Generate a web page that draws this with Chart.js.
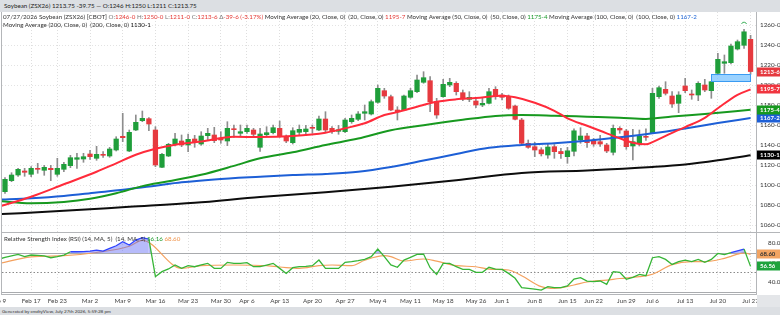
<!DOCTYPE html>
<html>
<head>
<meta charset="utf-8">
<script src="https://cdn.jsdelivr.net/npm/chart.js@4.4.1/dist/chart.umd.min.js"></script>
<style>
  html, body { margin:0; padding:0; width:780px; height:315px; overflow:hidden; background:#fff; font-family:Lato, "DejaVu Sans", sans-serif; }
  .abs { position:absolute; }
  #hdr { left:0; top:0; width:780px; height:12px; background:#dcdfe3; font-size:6.2px; color:#222; line-height:12px; white-space:nowrap; }
  #hdr span { padding-left:4px; }
  #foot { left:0; top:307px; width:780px; height:8px; background:#dcdfe3; font-size:4.6px; color:#333; line-height:8px; white-space:nowrap; }
  #foot span { padding-left:2px; }
  #axcorner { left:757px; top:295px; width:23px; height:12px; background:#e4e6e9; }
  .legend { font-size:6.2px; color:#333; white-space:nowrap; line-height:8px; pointer-events:none; }
  .g { color:#777; } .r { color:#e53935; } .gr { color:#1a9a2a; } .bl { color:#1f66d6; } .k { color:#111; } .or { color:#f0944c; }
  .line { background:#b4b6b9; }
  canvas { position:absolute; left:0; }
</style>
</head>
<body>
<div id="hdr" class="abs"><span id="hdrText"></span></div>
<canvas id="price" width="780" height="220" style="top:12px"></canvas>
<canvas id="rsi" width="780" height="75" style="top:232px"></canvas>
<div class="abs line" style="left:1px;top:12px;width:1px;height:283px"></div>
<div class="abs line" style="left:756px;top:12px;width:1px;height:283px"></div>
<div class="abs line" style="left:1px;top:232px;width:779px;height:1px"></div>
<div class="abs line" style="left:1px;top:294px;width:756px;height:1px"></div>
<div id="axcorner" class="abs"></div>
<div id="leg1" class="abs legend" style="left:3px;top:13px"></div>
<div id="leg2" class="abs legend" style="left:3px;top:21px"></div>
<div id="leg3" class="abs legend" style="left:4px;top:235px"></div>
<div id="foot" class="abs"><span>Generated by cmdtyView, July 27th 2026, 5:59:28 pm</span></div>
<script>
// ---------------- DATA ----------------
// session index 0 = Feb 9 2026 ... 115 = Jul 27 2026 (daily, trading days)
const firstSession = 1;
const opens = [1093.6,1104.6,1110.3,1114.3,1111,1116.5,1115,1117,1111,1116,1119.6,1126,1126.3,1131.3,1127,1131,1129.3,1135.3,1149,1134.3,
  1155.3,1164.6,1166.6,1155.3,1118,1129.3,1141.3,1144.3,1140.3,1146.3,1141.3,1149.6,1150.3,1147,1144.3,1156.3,1152,1153.6,1155.3,1138,
  1150.6,1152.6,1157,1148.6,1142.6,1153,1153.6,1157.5,1155.3,1166.3,1157,1154,1153.6,1163.6,1166,1172,1171.3,1183,1194.6,1188.6,
  1175.3,1175.3,1188,1193.6,1203,1204.6,1183.6,1188.6,1200.3,1202,1192.6,1186,1184.3,1180.3,1182,1196,1190.3,1188.6,1179.3,1165.3,
  1142,1138.6,1135.5,1130.3,1138.6,1133.8,1128.6,1134,1145.3,1149.3,1144.6,1143.6,1140.3,1133,1157,1154.3,1139.3,1142,1148.5,1152.6,
  1188.6,1196,1189.3,1182,1199.3,1191.3,1190.3,1200.3,1194.6,1212,1222,1222.6,1236.3,1240,1246];
const highs = [1107.6,1112.6,1117,1117,1118.6,1122,1120,1120,1127,1123,1130,1132,1132,1135,1139,1133.6,1138,1148.6,1172,1155.3,
  1170.3,1174.3,1167.6,1158.6,1132,1142,1152,1150.3,1151.3,1150,1153.6,1157,1158,1153.6,1163.6,1160.3,1160.3,1160.3,1157,1157,
  1158.6,1160.3,1164.3,1150.3,1157.6,1160.3,1160,1160.3,1169.3,1173.6,1158.6,1160,1167,1170.3,1173.6,1180.3,1185.3,1200.3,1197,1190.3,
  1178.6,1190.3,1197,1210.3,1213.6,1208.6,1187,1206,1207,1203.6,1195.3,1193.6,1186,1187,1197,1198.6,1192,1190.3,1180.3,1167,
  1145.3,1143,1137.6,1141,1140.8,1137,1138,1156.5,1157.6,1152,1147,1150,1142,1160.3,1158.6,1156,1156,1155.3,1156.5,1197,
  1199.3,1203.6,1193.6,1193.6,1207,1195.3,1203.6,1206,1204,1232,1230.3,1241.3,1245.3,1256,1250];
const lows = [1092,1103.6,1109,1109,1108.6,1112,1110,1104.6,1109,1113.6,1117.6,1117,1123,1126,1125,1128,1128,1134.3,1143.6,1133.6,
  1154.6,1163.6,1154.6,1118.6,1117.6,1128.6,1139.3,1138.6,1133.6,1138,1140,1145.3,1142.6,1142,1139.6,1148,1148.6,1152,1147.6,1134,
  1148.6,1151.3,1148,1142.6,1141.3,1150.3,1150,1152,1154.6,1153.6,1152,1151,1152.6,1162,1164.6,1165.3,1170.3,1182,1187,1174.6,
  1165.3,1174.6,1187,1192.6,1202,1173.6,1167,1188,1198.6,1190.3,1184.6,1183.6,1177.6,1178.6,1181.3,1186,1185.3,1176,1165.3,1140.3,
  1137,1128.6,1129.3,1127,1127,1127,1122,1129.5,1142,1138,1139,1139,1132.6,1130.3,1152,1136,1125.3,1139.3,1145,1152,
  1187,1190.3,1178,1172.6,1192.6,1186,1184.6,1193.6,1187,1211,1212,1221.3,1235.3,1237,1211];
const closes = [1106,1110.3,1116,1113,1117,1116,1118,1115.6,1117,1121,1127.6,1127.6,1128.6,1128.6,1131,1130,1136.3,1146.3,1147.6,1153,
  1163,1167,1161.3,1120.3,1131,1141,1146.3,1140.3,1146,1143.6,1149.3,1152,1144.6,1145.3,1157,1155.6,1153.6,1157,1151,1151.3,
  1152.6,1157.6,1148.6,1144.3,1154.6,1156,1156.3,1157,1166.3,1155.3,1153.6,1155.5,1165.3,1167,1171.3,1173.6,1183.6,1197,1189.3,1175.3,
  1173.6,1189.3,1194.6,1205.3,1207.6,1183.6,1170.3,1201,1203,1193.6,1186.3,1188,1180.3,1182,1193.6,1188.6,1188,1177,1166,1142,
  1138,1135.3,1131.5,1138.3,1133.6,1131.6,1134.5,1154.5,1149.3,1142.6,1141.3,1141.3,1134.3,1157,1155.3,1138.6,1143.6,1149.3,1148,1192,
  1197.6,1192,1181.3,1190.3,1194.6,1190.3,1202,1195.3,1203.6,1226,1223.6,1239.3,1243.6,1253.5,1213.75];

// moving averages: [session index, value]
const ma20 = [[0,1078.6],[5,1088.6],[10,1101],[15,1113.5],[18,1122],[21,1130.5],[24,1136.5],[27,1140.5],[31,1143.8],[36,1148.6],[40,1148.2],
  [45,1149.3],[50,1152.6],[53,1157],[56,1162],[59,1170.3],[61,1173.2],[64,1178.6],[67,1183.6],[70,1186],[73,1187.2],[77,1189.5],[79,1188],
  [82,1182.5],[85,1174.5],[87,1167],[90,1159.5],[92,1154.5],[95,1147],[97,1142.6],[99,1141],[100,1143.2],[103,1152.5],[105,1158.2],
  [108,1167.5],[110,1177],[113,1190.5],[115,1195.875]];
const ma50 = [[0,1084.2],[5,1082],[10,1083.4],[14,1086.5],[18,1092],[22,1099.2],[26,1104],[31,1110.5],[36,1119.4],[40,1127],[45,1133],
  [50,1140.3],[55,1146.7],[60,1155],[65,1160],[71,1165.5],[76,1169.4],[80,1170.3],[85,1169.6],[90,1168.6],[95,1167.6],[99,1166.4],
  [103,1168.8],[108,1171.4],[115,1175.5]];
const ma100 = [[0,1085.6],[5,1087],[10,1089.3],[15,1092.8],[20,1096.2],[24,1099.6],[28,1103],[33,1105.9],[40,1108.6],[45,1110.3],
  [50,1111.4],[55,1113.5],[60,1118.3],[65,1124.7],[70,1131.3],[75,1137.5],[80,1140.4],[85,1142.1],[90,1144.6],[95,1148],[100,1152],
  [105,1156.9],[110,1162.3],[115,1167.25]];
const ma200 = [[0,1071],[10,1074.5],[20,1078.5],[30,1082.5],[40,1088.3],[50,1093],[60,1098.5],[70,1105],[80,1112.3],[90,1114.8],
  [100,1118.3],[105,1120.8],[110,1125],[115,1130.125]];

// RSI(14), one value per session from index 0
const rsi = [63.5,65.5,67,68.6,66.2,67.9,67.5,67,65.1,66.2,67.9,71.3,71.3,71.5,72,73,72,74.8,77.5,81.7,
  78.2,83.4,85.8,84.4,45.5,50.7,53.5,57.6,54.1,56.9,55.8,57.6,59.3,54.1,54.1,60.3,59.3,59.3,60,55.8,
  55.8,57.5,59.3,54.1,48.9,54.8,55.8,56.2,56.9,62.7,54.1,54.1,54.1,60.3,61,62,63.4,66.2,74.1,66.2,
  57.6,55.2,62.7,65.5,68.6,68.9,54.8,47.9,59.3,59.3,55.8,53.1,53.1,50,50,55.2,53.4,53.1,48.9,43.8,
  34.1,33.4,32.7,31.7,35.2,34.1,34.1,35.9,43.1,44.5,41,40.3,41,37.6,50.7,50,42.8,44.8,47.9,46.5,
  65.1,66.2,63.4,58.2,61,62.7,61,63.4,60.3,63.4,69.5,68.4,70.5,72.3,74.1,56.16];
// RSI moving average (5): [session index, value]
const rsiMa = [[0,59],[5,66],[10,67.2],[15,70.5],[20,77],[22,83],[28,54.1],[31,56.9],[36,57.6],[41,56.9],[44,54.8],[46,54.1],
  [49,56.9],[51,57.6],[54,56.9],[56,62.5],[59,67.2],[60,66.2],[62,61.7],[65,63.8],[67,61.5],[70,56.9],[73,55.8],[75,53.4],[78,52.4],
  [80,46.5],[83,35.2],[85,33.4],[88,36.9],[90,40],[93,42],[95,43.6],[98,45.5],[100,48],[103,58],[106,61],[108,61],[111,64.5],
  [112,66.5],[113,68.8],[114,70.2],[115,68.6]];
const rsiLevels = [70, 50, 30];
const rsiAxisTicks = [40, 60, 80];
const rsiLegendValues = ['56.16', '68.60'];
const rsiBoxTexts = ['56.56', '68.60'];

// x axis ticks (session index -> label)
const tickIdx = [0,5,9,14,19,24,29,34,38,43,48,53,58,63,68,73,77,82,87,91,96,100,105,110,115];
const tickText = ['Feb 9','Feb 17','Feb 23','Mar 2','Mar 9','Mar 16','Mar 23','Mar 30','Apr 6','Apr 13','Apr 20','Apr 27',
  'May 4','May 11','May 18','May 26','Jun 1','Jun 8','Jun 15','Jun 22','Jun 29','Jul 6','Jul 13','Jul 20','Jul 27'];
const priceTicks = [1060,1080,1100,1120,1140,1160,1180,1200,1220,1240,1260];
// unfilled gap highlight: from session 109 (high) to session 110 (low), extended to last session
const gapFrom = 109, gapTo = 115;
const swingMarks = [114];

// ---------------- HELPERS ----------------
const GREEN = '#1f9e3a', RED = '#e63a3f', WICK = '#8d8d8d';
const C_MA20 = '#ff2b3b', C_MA50 = '#17991f', C_MA100 = '#1d5fd6', C_MA200 = '#0d0d0d';
const X_MIN = 0.541, X_MAX = 115.83;
const P_MIN = 1053.3, P_MAX = 1273.3;
const R_MIN = 27.6, R_MAX = 91.7;
const FONT = 'Lato';

function eighths(v) {
  let w = Math.floor(v), f = Math.round((v - w) * 8);
  if (f === 8) { w += 1; f = 0; }
  return w + '-' + f;
}
const last = a => a[a.length - 1][1];
const n = closes.length;
const lastClose = closes[n-1], prevClose = closes[n-2];
const chg = lastClose - prevClose;

document.getElementById('hdrText').textContent =
  'Soybean (ZSX26) ' + lastClose.toFixed(2) + ' ' + chg.toFixed(2) + ' \u2014 O:' + opens[n-1] + ' H:' + highs[n-1] + ' L:' + lows[n-1] + ' C:' + lastClose.toFixed(2);
document.getElementById('leg1').innerHTML =
  '07/27/2026 Soybean (ZSX26) [CBOT] <span class="g">O:</span><span class="r">' + eighths(opens[n-1]) + '</span> ' +
  '<span class="g">H:</span><span class="r">' + eighths(highs[n-1]) + '</span> ' +
  '<span class="g">L:</span><span class="r">' + eighths(lows[n-1]) + '</span> ' +
  '<span class="g">C:</span><span class="r">' + eighths(lastClose) + '</span> ' +
  '<span class="g">\u0394</span><span class="r">-' + eighths(-chg) + ' (' + (chg / prevClose * 100).toFixed(2) + '%)</span> ' +
  'Moving Average (20, Close, 0) &nbsp;(20, Close, 0) <span class="r">' + eighths(last(ma20)) + '</span> ' +
  'Moving Average (50, Close, 0) &nbsp;(50, Close, 0) <span class="gr">' + eighths(last(ma50)) + '</span> ' +
  'Moving Average (100, Close, 0) &nbsp;(100, Close, 0) <span class="bl">' + eighths(last(ma100)) + '</span>';
document.getElementById('leg2').innerHTML =
  'Moving Average (200, Close, 0) &nbsp;(200, Close, 0) <span class="k">' + eighths(last(ma200)) + '</span>';
document.getElementById('leg3').innerHTML =
  'Relative Strength Index (RSI) (14, MA, 5) &nbsp;(14, MA, 5) <span class="gr">' + rsiLegendValues[0] + '</span> <span class="or">' + rsiLegendValues[1] + '</span>';

const xs = closes.map((_, k) => firstSession + k);
const bodyData = xs.map((x, k) => ({ x, y: [opens[k], closes[k]] }));
const wickData = xs.map((x, k) => ({ x, y: [lows[k], highs[k]] }));
const candleColor = ctx => closes[ctx.dataIndex] >= opens[ctx.dataIndex] ? GREEN : RED;
const pts = arr => arr.map(p => ({ x: p[0], y: p[1] }));

function maDs(arr, color) {
  return { type: 'line', data: pts(arr), borderColor: color, borderWidth: 2, pointRadius: 0,
    cubicInterpolationMode: 'monotone', fill: false };
}

const xScaleBase = (showLabels) => ({
  type: 'linear', min: X_MIN, max: X_MAX, offset: false,
  afterBuildTicks: s => { s.ticks = tickIdx.map(v => ({ value: v })); },
  ticks: { display: showLabels, autoSkip: false, maxRotation: 0, padding: 3,
    font: { family: FONT, size: 6.3 }, color: '#444',
    callback: v => { const j = tickIdx.indexOf(v); return j >= 0 ? tickText[j] : ''; } },
  grid: { offset: false, drawTicks: false, color: 'rgba(0,0,0,0.13)', borderDash: [1, 2] },
  border: { display: false, dash: [1, 2] },
  afterFit: s => { s.paddingLeft = 0; s.paddingRight = 0; s.height = showLabels ? 13 : 0; }
});

// ---------------- PLUGINS ----------------
const gapPlugin = {
  id: 'gapZone',
  afterDatasetsDraw(chart) {
    const { ctx, scales: { x, y } } = chart;
    const lo = highs[gapFrom - firstSession], hi = lows[gapFrom + 1 - firstSession];
    const x1 = x.getPixelForValue(gapFrom), x2 = x.getPixelForValue(gapTo);
    const y1 = y.getPixelForValue(hi), y2 = y.getPixelForValue(lo);
    ctx.save();
    ctx.fillStyle = 'rgba(120,195,255,0.75)';
    ctx.fillRect(x1, y1, x2 - x1, y2 - y1);
    ctx.strokeStyle = '#3a9bf2'; ctx.lineWidth = 1;
    ctx.strokeRect(Math.round(x1) + 0.5, Math.round(y1) + 0.5, Math.round(x2 - x1), Math.round(y2 - y1));
    // swing marks
    ctx.strokeStyle = '#2aa84a'; ctx.lineWidth = 0.9;
    swingMarks.forEach(i => {
      const px = x.getPixelForValue(i), py = y.getPixelForValue(highs[i - firstSession]) - 6;
      ctx.beginPath(); ctx.arc(px, py + 1.5, 2.6, Math.PI * 1.1, Math.PI * 1.9); ctx.stroke();
    });
    ctx.restore();
  }
};

function drawBoxes(chart, scale, items) {
  const { ctx } = chart;
  const left = chart.chartArea.right + 1;
  ctx.save();
  items.forEach(it => {
    const py = Math.round(scale.getPixelForValue(it.v));
    ctx.fillStyle = it.bg; ctx.fillRect(left, py - 4.5, 23, 9);
    ctx.fillStyle = it.fg; ctx.font = 'bold 6px ' + FONT; ctx.textBaseline = 'middle'; ctx.textAlign = 'left';
    ctx.fillText(it.t, left + 3, py + 0.5);
  });
  ctx.restore();
}

const priceBoxes = {
  id: 'priceBoxes',
  afterDraw(chart) {
    const y = chart.scales.y;
    drawBoxes(chart, y, [
      { v: last(ma200), t: eighths(last(ma200)), bg: '#000', fg: '#fff' },
      { v: last(ma100), t: eighths(last(ma100)), bg: C_MA100, fg: '#fff' },
      { v: last(ma50), t: eighths(last(ma50)), bg: C_MA50, fg: '#fff' },
      { v: last(ma20), t: eighths(last(ma20)), bg: '#f0353f', fg: '#fff' },
      { v: lastClose, t: eighths(lastClose), bg: '#e5393f', fg: '#fff' }
    ]);
  }
};

const rsiLevelPlugin = {
  id: 'rsiLevels',
  beforeDatasetsDraw(chart) {
    const { ctx, chartArea: a, scales: { y } } = chart;
    ctx.save();
    rsiLevels.forEach(l => {
      const py = Math.round(y.getPixelForValue(l)) + 0.5;
      ctx.beginPath();
      if (l === 50) { ctx.setLineDash([1.5, 2]); ctx.strokeStyle = '#8a8a8a'; } else { ctx.setLineDash([]); ctx.strokeStyle = '#a9abae'; }
      ctx.lineWidth = 1;
      ctx.moveTo(a.left, py); ctx.lineTo(a.right, py); ctx.stroke();
    });
    ctx.restore();
  },
  afterDraw(chart) {
    drawBoxes(chart, chart.scales.y, [
      { v: rsiMa[rsiMa.length - 1][1], t: rsiBoxTexts[1], bg: '#f2a462', fg: '#333' },
      { v: rsi[rsi.length - 1], t: rsiBoxTexts[0], bg: '#1fa33c', fg: '#fff' }
    ]);
  }
};

// ---------------- CHARTS ----------------
Chart.defaults.font.family = FONT;

new Chart(document.getElementById('price'), {
  type: 'bar',
  data: { datasets: [
    maDs(ma20, C_MA20), maDs(ma50, C_MA50), maDs(ma100, C_MA100), maDs(ma200, C_MA200),
    { type: 'bar', data: bodyData, backgroundColor: candleColor, barThickness: 4.6, grouped: false, minBarLength: 1, borderWidth: 0 },
    { type: 'bar', data: wickData, backgroundColor: WICK, barThickness: 1, grouped: false, borderWidth: 0 }
  ] },
  options: {
    responsive: false, animation: false, events: [],
    layout: { padding: { left: 2, right: 0, top: 0, bottom: 0 } },
    plugins: { legend: { display: false }, tooltip: { enabled: false } },
    scales: {
      x: xScaleBase(false),
      y: { type: 'linear', position: 'right', min: P_MIN, max: P_MAX,
        afterBuildTicks: s => { s.ticks = priceTicks.map(v => ({ value: v })); },
        ticks: { padding: 4, font: { family: FONT, size: 6.3 }, color: '#333', callback: v => eighths(v) },
        grid: { drawTicks: false, color: 'rgba(0,0,0,0.11)', borderDash: [1, 2] },
        border: { display: false, dash: [1, 2] },
        afterFit: s => { s.width = 24; s.paddingTop = 0; s.paddingBottom = 0; } }
    }
  },
  plugins: [gapPlugin, priceBoxes]
});

new Chart(document.getElementById('rsi'), {
  type: 'line',
  data: { datasets: [
    { data: rsi.map((v, i) => ({ x: i, y: v })), borderColor: '#36b536', borderWidth: 1.3, pointRadius: 0, tension: 0,
      segment: { borderColor: c => (c.p0.parsed.y >= 70 && c.p1.parsed.y >= 70) ? '#3044ff' : undefined },
      fill: { target: { value: 70 }, above: 'rgba(95,105,245,0.45)', below: 'rgba(0,0,0,0)' } },
    { data: pts(rsiMa), borderColor: '#f4a15e', borderWidth: 1.2, pointRadius: 0, cubicInterpolationMode: 'monotone', fill: false }
  ] },
  options: {
    responsive: false, animation: false, events: [],
    layout: { padding: { left: 2, right: 0, top: 0, bottom: 0 } },
    plugins: { legend: { display: false }, tooltip: { enabled: false } },
    scales: {
      x: xScaleBase(true),
      y: { type: 'linear', position: 'right', min: R_MIN, max: R_MAX,
        afterBuildTicks: s => { s.ticks = rsiAxisTicks.map(v => ({ value: v })); },
        ticks: { padding: 4, font: { family: FONT, size: 6.3 }, color: '#333', callback: v => v.toFixed(2) },
        grid: { display: false },
        border: { display: false },
        afterFit: s => { s.width = 24; s.paddingTop = 0; s.paddingBottom = 0; } }
    }
  },
  plugins: [rsiLevelPlugin]
});
</script>
</body>
</html>
